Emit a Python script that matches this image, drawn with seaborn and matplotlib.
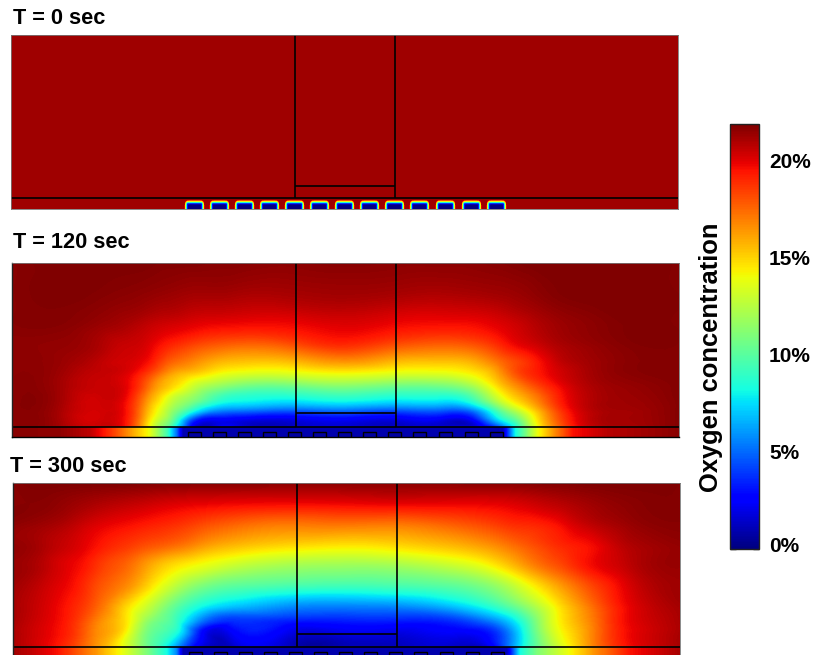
import numpy as np
import seaborn as sns
import matplotlib
matplotlib.use('Agg')
import matplotlib.pyplot as plt
import matplotlib.tri as mtri
from matplotlib.patches import Rectangle
from matplotlib.transforms import ScaledTranslation

W, H = 815, 655
VMIN, VMAX = 0, 21.9

titles = ['T = 0 sec', 'T = 120 sec', 'T = 300 sec']
cbar_label = 'Oxygen concentration'
cbar_ticks = [0, 5, 10, 15, 20]
cbar_minor = [2.5, 7.5, 12.5, 17.5]
cbar_ticklabels = ['0%', '5%', '10%', '15%', '20%']

# oxygen at the start, away from the electrodes
t0_ambient = 21.3

# half of the depleted patch over one electrode at T = 0, rows top to bottom
t0_patch = [
    [21.3, 21.0, 20.5, 19.0, 18.5, 18.0, 18.0, 18.0, 18.0, 18.0, 18.0],
    [21.3, 20.0, 16.0, 14.0, 13.8, 13.8, 13.8, 13.8, 13.8, 13.8, 13.8],
    [21.3, 17.0, 12.0, 9.0, 8.5, 8.5, 8.5, 8.5, 8.5, 8.5, 8.5],
    [21.0, 15.0, 9.0, 5.0, 4.0, 4.0, 4.0, 4.0, 4.0, 4.0, 4.0],
    [21.0, 14.0, 8.0, 3.0, 1.5, 1.0, 1.0, 1.0, 1.0, 1.0, 1.0],
    [20.0, 13.8, 8.0, 3.0, 0.3, 0.0, 0.0, 0.0, 0.0, 0.0, 0.0],
    [20.0, 13.8, 8.0, 3.0, 0.3, 0.0, 0.0, 0.0, 0.0, 0.0, 0.0],
    [20.0, 13.8, 8.0, 3.0, 0.3, 0.0, 0.0, 0.0, 0.0, 0.0, 0.0],
    [20.0, 13.8, 8.0, 3.0, 0.3, 0.0, 0.0, 0.0, 0.0, 0.0, 0.0],
]

# T = 120 sec (x and y in image pixels)
x_120 = [10, 60, 100, 125, 145, 160, 175, 190, 215, 240, 293, 345, 396, 440, 473, 497, 515, 535, 555, 580, 620, 680]
y_120 = [263, 290, 310, 327, 345, 360, 372, 385, 398, 410, 420, 428]
o2_120 = [
    [21.7, 21.9, 21.9, 21.9, 21.9, 21.8, 21.8, 21.8, 21.7, 21.7, 21.6, 21.7, 21.6, 21.6, 21.6, 21.7, 21.8, 21.9, 21.9, 21.9, 21.9, 21.8],
    [21.7, 21.9, 21.8, 21.7, 21.6, 21.5, 21.4, 21.3, 21.3, 21.2, 21.2, 21.3, 21.2, 21.1, 21.2, 21.3, 21.4, 21.6, 21.8, 21.9, 21.9, 21.8],
    [21.7, 21.8, 21.6, 21.4, 21.2, 21.0, 20.9, 20.7, 20.6, 20.5, 20.5, 20.7, 20.4, 20.3, 20.4, 20.6, 20.9, 21.2, 21.5, 21.7, 21.9, 21.8],
    [21.7, 21.7, 21.3, 21.0, 20.6, 20.3, 20.1, 19.9, 19.6, 19.5, 19.6, 20.0, 19.6, 19.4, 19.5, 19.9, 20.3, 20.8, 21.2, 21.5, 21.8, 21.8],
    [21.6, 21.5, 21.0, 20.5, 20.2, 19.5, 18.9, 18.4, 17.8, 17.5, 18.0, 18.9, 18.0, 17.6, 17.9, 18.8, 19.7, 20.3, 20.9, 21.3, 21.7, 21.8],
    [21.6, 21.4, 20.7, 20.3, 19.8, 18.6, 17.6, 17.0, 16.0, 15.6, 15.8, 16.7, 15.8, 15.6, 16.0, 17.3, 18.3, 19.3, 20.4, 21.1, 21.6, 21.8],
    [21.6, 21.3, 20.6, 20.2, 18.9, 17.4, 16.1, 15.5, 14.4, 13.8, 13.8, 14.3, 13.8, 13.8, 14.5, 16.1, 18.0, 19.2, 20.1, 20.9, 21.6, 21.8],
    [21.6, 21.2, 20.5, 20.0, 17.9, 16.0, 14.8, 13.4, 11.9, 11.0, 10.8, 11.4, 10.8, 10.9, 12.2, 14.8, 16.6, 18.2, 19.5, 20.7, 21.4, 21.8],
    [21.6, 21.2, 20.4, 19.8, 16.9, 14.7, 12.7, 11.6, 9.4, 8.5, 8.2, 8.7, 8.2, 8.2, 9.5, 12.9, 15.0, 16.8, 18.8, 20.5, 21.3, 21.8],
    [21.6, 21.1, 20.3, 19.6, 16.2, 13.6, 11.2, 9.0, 6.0, 5.4, 4.8, 5.2, 4.6, 4.8, 5.5, 9.6, 12.4, 15.2, 18.0, 20.3, 21.2, 21.8],
    [21.6, 21.1, 20.3, 19.5, 15.6, 12.5, 9.5, 4.5, 2.2, 2.0, 1.8, 2.2, 1.8, 2.0, 2.4, 7.0, 9.8, 14.0, 17.4, 20.1, 21.2, 21.8],
    [21.6, 21.1, 20.2, 19.4, 15.2, 11.8, 8.5, 2.4, 1.8, 1.6, 1.5, 1.7, 1.5, 1.6, 2.0, 3.0, 8.2, 13.5, 17.0, 20.0, 21.1, 21.8],
]
# the thin layer under the line, which has its own profile
strip_x_120 = [10, 60, 90, 103, 116, 130, 150, 167, 177, 183, 190, 497, 503, 515, 537, 553, 573, 607, 680]
strip_120 = [21.7, 21.6, 20.7, 19.5, 18.2, 16.4, 13.8, 9.5, 5.0, 1.0, 0.9, 0.9, 1.0, 8.0, 13.8, 16.4, 19.5, 20.8, 21.7]

# T = 300 sec
x_300 = [10, 40, 60, 80, 100, 125, 150, 175, 200, 235, 293, 345, 397, 450, 490, 520, 545, 565, 590, 615, 640, 682]
y_300 = [483, 505, 525, 545, 565, 585, 605, 620, 632, 648]
o2_300 = [
    [21.7, 21.9, 21.9, 21.9, 21.9, 21.9, 21.8, 21.8, 21.7, 21.7, 21.6, 21.6, 21.6, 21.6, 21.7, 21.7, 21.8, 21.8, 21.9, 21.9, 21.9, 21.8],
    [21.7, 21.7, 21.5, 21.2, 20.9, 20.6, 20.3, 20.0, 19.8, 19.6, 19.5, 19.6, 19.7, 19.7, 19.8, 20.1, 20.5, 20.8, 21.2, 21.5, 21.7, 21.8],
    [21.6, 21.3, 21.0, 20.5, 20.0, 19.6, 19.2, 18.8, 18.2, 17.5, 17.0, 17.1, 17.0, 17.6, 18.3, 18.9, 19.2, 19.8, 20.6, 21.1, 21.5, 21.7],
    [21.5, 21.1, 20.6, 20.1, 19.4, 18.7, 18.0, 17.4, 16.5, 15.6, 14.9, 14.6, 14.9, 15.6, 16.5, 17.6, 18.5, 19.1, 19.6, 20.5, 21.1, 21.5],
    [21.4, 20.9, 20.2, 19.6, 18.6, 17.6, 16.0, 14.7, 13.9, 12.9, 12.0, 11.8, 12.0, 12.9, 14.2, 16.0, 17.5, 18.4, 19.6, 20.3, 21.0, 21.4],
    [21.3, 20.6, 20.0, 19.2, 18.0, 16.8, 14.8, 12.7, 11.1, 10.1, 9.6, 9.4, 9.6, 10.1, 11.3, 13.3, 15.2, 16.6, 18.2, 19.5, 20.6, 21.3],
    [21.2, 20.4, 19.7, 18.8, 17.4, 15.1, 12.8, 10.3, 8.4, 7.1, 5.9, 5.7, 5.9, 7.0, 8.8, 11.0, 13.3, 15.2, 17.2, 19.1, 20.3, 21.2],
    [21.2, 20.3, 19.6, 18.4, 16.7, 14.7, 11.3, 9.3, 5.6, 3.8, 3.4, 3.4, 3.4, 3.7, 5.5, 8.5, 12.4, 14.8, 16.8, 19.0, 20.2, 21.1],
    [21.1, 20.2, 19.5, 18.2, 16.5, 14.3, 10.5, 8.6, 3.0, 2.6, 1.9, 2.0, 1.9, 2.4, 3.2, 7.4, 12.0, 14.4, 16.6, 18.9, 20.1, 21.1],
    [21.1, 20.2, 19.3, 18.0, 16.2, 13.7, 10.2, 6.0, 1.6, 1.4, 1.2, 1.2, 1.2, 1.4, 1.6, 7.5, 11.2, 13.6, 16.5, 18.8, 20.0, 21.1],
]
strip_x_300 = [10, 30, 58, 97, 123, 147, 167, 177, 183, 190, 500, 507, 520, 537, 567, 593, 630, 682]
strip_300 = [21.3, 20.7, 19.5, 16.4, 13.8, 11.0, 8.2, 5.5, 1.0, 0.9, 0.9, 1.2, 8.2, 11.0, 13.8, 16.4, 19.5, 21.2]

# device geometry, pixels from the panel's top left corner
electrodes = [183, 208, 233, 258, 283, 308, 333, 358, 383, 408, 434, 460, 485]
chamber_x = [284, 384]


def add_panel(left, top, right, bottom):
    return fig.add_axes([left / W, 1 - bottom / H, (right - left) / W, (bottom - top) / H])


def draw_geometry(ax, width, height, chamber_y, base_y, outlines=False):
    for x in chamber_x:
        ax.plot([x, x], [0, base_y], color='black', lw=1.2, solid_capstyle='butt')
    ax.plot(chamber_x, [chamber_y, chamber_y], color='black', lw=1.2, solid_capstyle='butt')
    ax.plot([0, width], [base_y, base_y], color='black', lw=1.2, solid_capstyle='butt')
    if outlines:
        for c in electrodes:
            ax.add_patch(Rectangle((c - 6.5, 169), 13, 6, facecolor=jet(0.03),
                                   edgecolor='black', lw=1.0))
    ax.set_xlim(0, width)
    ax.set_ylim(height, 0)
    ax.set_xticks([])
    ax.set_yticks([])


def draw_field(ax, x, y, values, strip_x, strip, left, top, base_y):
    levels = np.linspace(VMIN, VMAX, 257)
    # smooth the table with matplotlib's own cubic refiner before filling
    gx, gy = np.meshgrid(np.array(x) - left, np.array(y) - top)
    grid = mtri.Triangulation(gx.ravel(), gy.ravel())
    fine, fine_z = mtri.UniformTriRefiner(grid).refine_field(np.array(values).ravel(), subdiv=3)
    ax.tricontourf(fine, fine_z, levels=levels, cmap=jet, extend='both', antialiased=False)
    ax.contourf(np.array(strip_x) - left, [base_y, 180], np.array([strip, strip]),
                levels=levels, cmap=jet, extend='both', antialiased=False)


sns.set_theme(style='white')
plt.rcParams['font.family'] = ['Liberation Sans', 'DejaVu Sans']
jet = matplotlib.colormaps['jet']

fig = plt.figure(figsize=(W / 100, H / 100), dpi=100)

# T = 0: one heatmap cell per pixel
ax0 = add_panel(11, 35, 678, 209)
cax = fig.add_axes([730 / W, 1 - 549 / H, 28.5 / W, 425 / H])
field0 = np.full((174, 667), t0_ambient)
half = np.array(t0_patch)
patch = np.hstack([half, half[:, -2::-1]])
for c in electrodes:
    field0[165:174, c - 10:c + 11] = patch
sns.heatmap(field0, ax=ax0, cbar_ax=cax, cmap=jet, vmin=VMIN, vmax=VMAX,
            xticklabels=False, yticklabels=False)
draw_geometry(ax0, 667, 174, 151, 163)

ax1 = add_panel(11.5, 263, 679, 437)
draw_field(ax1, x_120, y_120, o2_120, strip_x_120, strip_120, 11.5, 263, 164)
draw_geometry(ax1, 667.5, 174, 150, 164, outlines=True)

ax2 = add_panel(12.5, 483, 680, 655)
draw_field(ax2, x_300, y_300, o2_300, strip_x_300, strip_300, 12.5, 483, 164)
draw_geometry(ax2, 667.5, 172, 151, 164, outlines=True)

for ax in [ax0, ax1, ax2]:
    for side in ax.spines.values():
        side.set_visible(True)
        side.set_color('#777777')
        side.set_linewidth(0.6)
for ax in [ax1, ax2]:
    ax.spines['left'].set_color('#222222')
    ax.spines['left'].set_linewidth(1.0)
ax1.spines['bottom'].set_color('black')
ax1.spines['bottom'].set_linewidth(1.0)

fig.text(13 / W, 1 - 19 / H, titles[0], fontsize=15.7, fontweight='bold', va='center', color='black')
fig.text(13 / W, 1 - 243 / H, titles[1], fontsize=15.7, fontweight='bold', va='center', color='black')
fig.text(10 / W, 1 - 466 / H, titles[2], fontsize=15.7, fontweight='bold', va='center', color='black')

# colour bar
cbar = ax0.collections[0].colorbar
cbar.set_ticks(cbar_ticks, labels=cbar_ticklabels)
cbar.ax.set_yticks(cbar_minor, minor=True)
cbar.ax.tick_params(which='both', left=True, right=True, direction='in', length=4, width=1,
                    color='#111111', labelsize=15, pad=7.5)
for lab in cbar.ax.get_yticklabels():
    lab.set_fontweight('bold')
    lab.set_color('black')
zero_lab = cbar.ax.get_yticklabels()[0]
zero_lab.set_transform(zero_lab.get_transform() + ScaledTranslation(0, 0.05, fig.dpi_scale_trans))
cbar.outline.set_visible(True)
cbar.outline.set_edgecolor('#222222')
cbar.outline.set_linewidth(1.0)
fig.text(711 / W, 1 - 357 / H, cbar_label, rotation=90, fontsize=18.4, fontweight='bold',
         ha='center', va='center', color='black')

fig.savefig('out.png', dpi=100)
